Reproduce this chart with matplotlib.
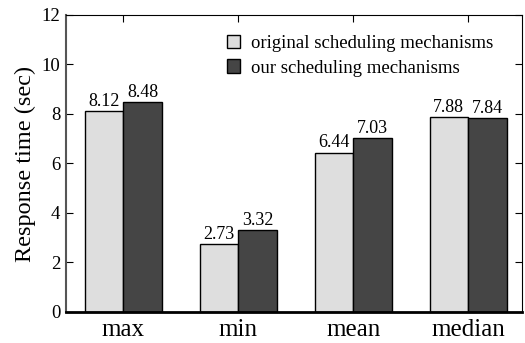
import numpy as np
import matplotlib.pyplot as plt

plt.rcParams['font.family'] = ['Liberation Serif', 'DejaVu Serif']

categories = ['max', 'min', 'mean', 'median']
original = [8.12, 2.73, 6.44, 7.88]
ours = [8.48, 3.32, 7.03, 7.84]
series_names = ['original scheduling mechanisms', 'our scheduling mechanisms']

fig = plt.figure(figsize=(5.25, 3.43), dpi=100)
ax = fig.add_axes([0.1257, 0.0904, 0.8686, 0.8659])

x = np.arange(len(categories))
w = 0.335
b1 = ax.bar(x - w / 2, original, w, color='#dedede', edgecolor='black', linewidth=1.0, label=series_names[0])
b2 = ax.bar(x + w / 2, ours, w, color='#454545', edgecolor='black', linewidth=1.0, label=series_names[1])

for bars, vals in ((b1, original), (b2, ours)):
    for r, v in zip(bars, vals):
        ax.text(r.get_x() + r.get_width() / 2, v + 0.05, f'{v:.2f}',
                ha='center', va='bottom', fontsize=13)

ax.set_xlim(-0.5, 3.47)
ax.set_ylim(0, 12)
ax.set_yticks(range(0, 13, 2))
ax.set_xticks(x)
ax.set_xticklabels(categories, fontsize=18)
ax.set_ylabel('Response time (sec)', fontsize=17.5, labelpad=4)
ax.tick_params(axis='y', direction='in', right=True, labelsize=13.5, length=5, pad=4)
ax.tick_params(axis='x', direction='in', top=True, bottom=False, length=5, pad=5)

ax.spines['bottom'].set_linewidth(2.0)
ax.spines['left'].set_color('#555555')
ax.spines['left'].set_linewidth(1.5)
for s in ('top', 'right'):
    ax.spines[s].set_linewidth(0.8)

ax.legend(loc='upper left', bbox_to_anchor=(0.315, 0.99), frameon=False, fontsize=13.5,
          handlelength=0.7, handleheight=0.7, handletextpad=0.6, labelspacing=0.4)

fig.savefig('out.png', dpi=100)
